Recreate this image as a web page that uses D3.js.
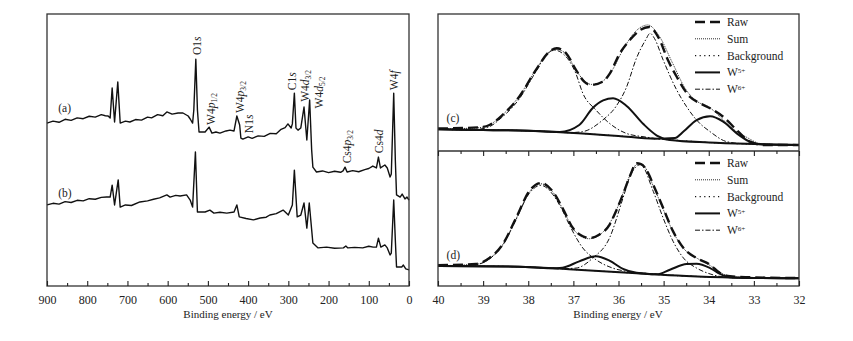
<!DOCTYPE html>
<html>
<head>
<meta charset="utf-8">
<script src="https://cdn.jsdelivr.net/npm/d3@7"></script>
<style>
  body { margin: 0; background: #fff; }
  svg text { font-family: "Liberation Serif", "DejaVu Serif", serif; fill: #222; }
</style>
</head>
<body>
<div id="chart"></div>
<script>
// ---- survey spectra (binding energy eV, intensity a.u.) ----
const surveyA = [
  [900, 59.9], [885, 60.6], [870, 60.2], [855, 61.3], [840, 60.9], [825, 61.8], [810, 61.5],
  [795, 62.4], [780, 62.1], [765, 63.0], [755, 62.6], [748, 62.5], [743, 61.8], [738, 72.8],
  [732, 60.3], [724, 75.0], [718, 59.9], [705, 60.6], [694, 60.3], [680, 61.2], [665, 61.0],
  [650, 62.1], [640, 61.8], [625, 63.0], [612, 62.6], [602, 64.0], [589, 63.2], [574, 63.6],
  [562, 63.6], [549, 62.5], [544, 61.4], [538, 59.9], [535, 64.7], [530, 83.4], [526, 64.7],
  [522, 56.6], [507, 56.6], [497, 58.4], [490, 56.2], [480, 56.6], [470, 56.2], [455, 57.0],
  [445, 57.3], [435, 57.0], [428, 62.5], [421, 59.2], [418, 54.4], [413, 54.0], [400, 54.8],
  [390, 54.3], [375, 55.2], [360, 55.0], [345, 56.1], [330, 56.0], [318, 57.6], [308, 58.2],
  [301, 59.6], [293, 58.1], [290, 59.6], [285, 70.9], [281, 58.1], [276, 57.3], [269, 58.1],
  [261, 65.8], [254, 53.7], [247, 68.4], [242, 50.0], [239, 43.7], [230, 41.9], [215, 42.3],
  [200, 41.7], [185, 42.2], [170, 41.8], [164, 42.3], [159, 43.7], [154, 41.9], [140, 42.4],
  [125, 42.0], [110, 42.8], [100, 43.2], [90, 44.1], [81, 43.4], [76, 47.4], [71, 43.4],
  [60, 44.5], [54, 43.4], [47, 40.1], [44, 41.2], [38, 70.9], [34, 46.3], [31, 33.5],
  [22, 32.7], [17, 33.8], [10, 32.0], [5, 32.7], [0, 31.6]
];
const surveyB = [
  [900, 29.8], [885, 30.4], [870, 30.1], [855, 31.0], [840, 30.7], [825, 31.5], [810, 31.3],
  [795, 32.1], [780, 31.9], [765, 32.6], [752, 32.7], [743, 32.7], [738, 37.1], [732, 29.8],
  [723, 39.0], [718, 29.0], [705, 29.8], [690, 29.6], [669, 30.9], [650, 31.3], [635, 31.9],
  [620, 32.4], [602, 33.5], [594, 32.7], [580, 33.3], [569, 33.1], [553, 33.5], [544, 31.6],
  [538, 29.0], [531, 49.3], [526, 27.2], [507, 27.2], [495, 27.9], [485, 26.8], [470, 27.1],
  [453, 26.8], [435, 27.2], [428, 29.8], [422, 25.4], [405, 24.8], [387, 24.3], [370, 25.0],
  [355, 25.3], [346, 26.1], [330, 26.6], [313, 27.9], [300, 26.1], [290, 29.8], [285, 42.6],
  [278, 25.4], [269, 26.1], [261, 30.5], [254, 21.3], [248, 30.5], [239, 15.8], [226, 14.0],
  [205, 14.3], [185, 13.9], [163, 14.0], [157, 14.7], [152, 14.0], [135, 14.2], [115, 14.0],
  [100, 14.6], [89, 14.3], [81, 14.3], [76, 17.6], [70, 14.3], [60, 15.1], [54, 14.0],
  [47, 11.4], [44, 12.1], [38, 31.6], [34, 16.9], [31, 7.0], [18, 7.0], [14, 7.7], [8, 6.3], [0, 5.9]
];
const surveyPeakLabels = [
  { at: [526, 84.9], parts: [["O1", ""], ["s", "i"]] },
  { at: [492, 59.2], parts: [["W4", ""], ["p", "i"], ["1/2", "sub"]] },
  { at: [420, 63.6], parts: [["W4", ""], ["p", "i"], ["3/2", "sub"]] },
  { at: [398, 56.2], parts: [["N1", ""], ["s", "i"]] },
  { at: [291, 72.0], parts: [["C1", ""], ["s", "i"]] },
  { at: [259, 67.7], parts: [["W4", ""], ["d", "i"], ["3/2", "sub"]] },
  { at: [224, 65.3], parts: [["W4", ""], ["d", "i"], ["5/2", "sub"]] },
  { at: [154, 45.1], parts: [["Cs4", ""], ["p", "i"], ["3/2", "sub"]] },
  { at: [75, 48.8], parts: [["Cs4", ""], ["d", "i"]] },
  { at: [37, 72.0], parts: [["W4", ""], ["f", "i"]] }
];
const surveyTags = [{ text: "(a)", at: [872, 64.0] }, { text: "(b)", at: [872, 32.9] }];
const surveyTicks = [900, 800, 700, 600, 500, 400, 300, 200, 100, 0];

// ---- W4f fits, panel (c) ----
const rawC = [
  [40, 16.4], [39.08, 17.3], [38.86, 19.0], [38.57, 26.3], [38.2, 39.6], [37.83, 59.1],
  [37.53, 72.5], [37.37, 75.0], [37.16, 71.3], [36.94, 59.1], [36.76, 50.6], [36.61, 48.2],
  [36.35, 50.6], [36.19, 56.7], [35.97, 71.3], [35.75, 81.0], [35.52, 88.3], [35.32, 90.5],
  [35.1, 82.0], [34.9, 66.0], [34.71, 54.2], [34.42, 39.6], [34.19, 34.8], [33.97, 31.2],
  [33.68, 25.0], [33.38, 15.3], [33.09, 6.8], [32.79, 4.4], [32, 4.4]
];
const sumC = [
  [40, 16.0], [39.1, 17.0], [38.85, 19.3], [38.55, 27.0], [38.2, 40.0], [37.85, 58.5],
  [37.55, 72.0], [37.38, 74.2], [37.15, 70.5], [36.95, 59.5], [36.75, 51.0], [36.6, 48.6],
  [36.35, 51.0], [36.13, 59.5], [35.9, 74.0], [35.6, 88.0], [35.35, 92.0], [35.1, 84.0],
  [34.8, 64.0], [34.5, 44.5], [34.27, 36.5], [33.97, 31.5], [33.75, 25.0], [33.46, 16.0],
  [33.16, 10.0], [32.86, 5.5], [32.4, 4.6], [32, 4.4]
];
const bgC = [[40, 15.8], [39, 15.3], [38, 14.8], [37.1, 13.4], [36, 11.0], [35, 8.5], [34, 6.2], [33, 5.1], [32, 4.4]];
const w6C = [
  [[40, 15.8], [39.2, 15.7], [38.9, 17.2], [38.6, 24.1], [38.2, 38.0], [37.85, 56.9], [37.6, 70.0],
   [37.43, 73.7], [37.2, 70.1], [36.95, 57.0], [36.79, 42.1], [36.5, 29.9], [36.2, 20.2],
   [35.83, 12.9], [35.4, 10.2], [35, 8.5], [34, 6.2], [33, 5.1], [32, 4.4]],
  [[40, 15.8], [39, 15.3], [38, 14.8], [37.1, 13.4], [36.8, 14.1], [36.35, 22.6], [36.06, 32.3],
   [35.83, 46.0], [35.6, 67.9], [35.4, 81.0], [35.3, 85.9], [35.2, 82.0], [35.01, 66.4],
   [34.71, 44.5], [34.49, 32.3], [34.27, 22.6], [33.97, 14.1], [33.6, 6.8], [33.23, 5.3], [32, 4.4]]
];
const w5C = [
  [[40, 15.8], [39, 15.3], [38, 14.8], [37.3, 13.9], [36.87, 19.0], [36.57, 31.4], [36.34, 36.9],
   [36.12, 38.5], [35.82, 32.9], [35.45, 19.7], [35.15, 11.3], [34.86, 8.0], [34, 6.2], [33, 5.1], [32, 4.4]],
  [[40, 15.8], [39, 15.3], [38, 14.8], [37.1, 13.4], [36, 11.0], [35.2, 9.0], [34.75, 9.5],
   [34.56, 14.2], [34.27, 22.6], [33.97, 25.3], [33.68, 21.4], [33.38, 12.9], [33.09, 6.8],
   [32.8, 4.7], [32, 4.4]]
];

// ---- W4f fits, panel (d) ----
const rawD = [
  [40, 15.2], [39.16, 16.1], [38.86, 20.4], [38.57, 30.2], [38.27, 49.6], [37.98, 69.1],
  [37.72, 75.2], [37.46, 69.1], [37.24, 56.9], [37.01, 42.3], [36.79, 36.3], [36.65, 35.0],
  [36.43, 37.4], [36.2, 44.7], [36.05, 55.0], [35.9, 67.0], [35.75, 80.0], [35.6, 89.6],
  [35.5, 89.0], [35.35, 83.0], [35.23, 74.0], [35.01, 56.9], [34.79, 39.9], [34.56, 27.7],
  [34.27, 20.4], [33.97, 15.5], [33.75, 9.5], [33.53, 7.1], [33.09, 6.4], [32, 5.8]
];
const sumD = [
  [40, 14.8], [39.16, 15.8], [38.86, 20.0], [38.57, 30.0], [38.27, 49.0], [37.98, 68.5],
  [37.72, 74.6], [37.46, 68.8], [37.24, 56.5], [37.01, 42.0], [36.79, 35.5], [36.65, 34.5],
  [36.43, 37.0], [36.2, 45.5], [36.0, 59.0], [35.75, 80.5], [35.58, 89.0], [35.45, 88.0],
  [35.23, 73.0], [35.01, 56.0], [34.79, 39.5], [34.56, 27.5], [34.27, 20.5], [33.97, 15.0],
  [33.75, 10.0], [33.53, 7.0], [33.09, 6.1], [32, 5.6]
];
const bgD = [[40, 14.6], [39, 14.4], [38.2, 14.1], [37.1, 12.2], [36.3, 10.7], [35.6, 9.3], [34.5, 7.3], [33.4, 6.1], [32, 5.6]];
const w6D = [
  [[40, 14.6], [39.16, 15.6], [38.86, 19.8], [38.57, 29.5], [38.27, 48.5], [37.98, 67.5],
   [37.72, 73.5], [37.46, 67.0], [37.24, 55.0], [37.09, 44.7], [36.79, 27.7], [36.5, 19.2],
   [36.13, 13.1], [35.83, 10.7], [35.3, 9.0], [34.5, 7.3], [33.4, 6.1], [32, 5.6]],
  [[40, 14.6], [38.2, 14.1], [37.3, 12.6], [36.94, 13.1], [36.57, 20.4], [36.2, 35.0], [35.9, 64.2],
   [35.73, 81.3], [35.51, 88.6], [35.23, 69.1], [35.01, 49.6], [34.79, 32.6], [34.56, 20.4],
   [34.27, 13.1], [33.97, 8.8], [33.68, 6.7], [33, 5.9], [32, 5.6]]
];
const w5D = [
  [[40, 14.6], [38.2, 14.1], [37.5, 12.9], [37.24, 13.4], [36.87, 18.0], [36.5, 21.7], [36.2, 18.5],
   [35.9, 12.5], [35.6, 9.6], [35.2, 8.6], [34.5, 7.3], [33.4, 6.1], [32, 5.6]],
  [[40, 14.6], [38.2, 14.1], [37.1, 12.2], [35.6, 9.3], [35.15, 8.5], [34.86, 11.9], [34.49, 16.1],
   [34.27, 16.3], [33.97, 13.1], [33.75, 8.8], [33.53, 6.3], [33, 5.9], [32, 5.6]]
];
const fitTicks = [40, 39, 38, 37, 36, 35, 34, 33, 32];
const legendNames = ["Raw", "Sum", "Background", "W5+", "W6+"];

const width = 853, height = 341;
const svg = d3.select("#chart").append("svg").attr("width", width).attr("height", height);

const styles = {
  raw: { w: 2.4, dash: "10,5" },
  sum: { w: 0.9, dash: "1,1" },
  bg: { w: 1.2, dash: "1.2,3.4" },
  w5: { w: 2, dash: null },
  w6: { w: 1, dash: "5,2,1.5,2" }
};

function drawLine(g, data, line, st) {
  g.append("path").datum(data)
    .attr("fill", "none").attr("stroke", "#111")
    .attr("stroke-width", st.w)
    .attr("stroke-dasharray", st.dash)
    .attr("stroke-linejoin", "round")
    .attr("d", line);
}

function bottomTicks(g, x, y0, major, minor, dir) {
  // inward ticks; dir -1 = up, +1 = down
  g.append("g").attr("transform", "translate(0," + y0 + ")")
    .call((dir < 0 ? d3.axisBottom(x) : d3.axisTop(x)).tickValues(minor).tickSize(-3).tickFormat(""))
    .call(s => s.select(".domain").remove())
    .selectAll("line").attr("stroke", "#222").attr("stroke-width", 1.1);
  g.append("g").attr("transform", "translate(0," + y0 + ")")
    .call((dir < 0 ? d3.axisBottom(x) : d3.axisTop(x)).tickValues(major).tickSize(-5).tickFormat(""))
    .call(s => s.select(".domain").remove())
    .selectAll("line").attr("stroke", "#222").attr("stroke-width", 1.1);
}

function tickLabels(g, x, y0, ticks) {
  g.append("g").attr("transform", "translate(0," + y0 + ")")
    .call(d3.axisBottom(x).tickValues(ticks).tickSize(0).tickPadding(9).tickFormat(d3.format("d")))
    .call(s => s.select(".domain").remove())
    .selectAll("text")
    .style("font-size", "12px")
    .style("font-family", "'Liberation Serif', serif")
    .attr("fill", "#222");
}

// ---------------- left: survey ----------------
const xS = d3.scaleLinear().domain([900, 0]).range([47, 409]);
const yS = d3.scaleLinear().domain([0, 100]).range([286, 14]);
const gS = svg.append("g");

const lineS = d3.line().x(d => xS(d[0])).y(d => yS(d[1]));
drawLine(gS, surveyA, lineS, { w: 1.4, dash: null });
drawLine(gS, surveyB, lineS, { w: 1.4, dash: null });

gS.append("rect").attr("x", 47).attr("y", 14).attr("width", 362).attr("height", 272)
  .attr("fill", "none").attr("stroke", "#333").attr("stroke-width", 1.3);

bottomTicks(gS, xS, 286, surveyTicks, d3.range(850, 0, -100), -1);
tickLabels(gS, xS, 286, surveyTicks);

surveyTags.forEach(t => {
  gS.append("text").attr("x", xS(t.at[0])).attr("y", yS(t.at[1]))
    .style("font-size", "11.5px").text(t.text);
});

surveyPeakLabels.forEach(p => {
  const t = gS.append("text")
    .attr("transform", "translate(" + xS(p.at[0]) + "," + yS(p.at[1]) + ") rotate(-90)")
    .attr("dy", "0.35em")
    .style("font-size", "11.5px");
  p.parts.forEach(([s, kind]) => {
    const ts = t.append("tspan").text(s);
    if (kind === "i") ts.style("font-style", "italic");
    if (kind === "sub") ts.style("font-size", "7.5px").attr("dy", "0.3em");
  });
});

svg.append("text").attr("x", 228).attr("y", 318).attr("text-anchor", "middle")
  .style("font-size", "11px").text("Binding energy / eV");

// ---------------- right: W4f fits ----------------
const xF = d3.scaleLinear().domain([40, 32]).range([438, 799]);
const panels = [
  { tag: "(c)", tagAt: [39.81, 21.2], y: d3.scaleLinear().domain([0, 100]).range([151, 14]),
    raw: rawC, sum: sumC, bg: bgC, w5: w5C, w6: w6C, legTop: 22 },
  { tag: "(d)", tagAt: [39.81, 19.7], y: d3.scaleLinear().domain([0, 100]).range([286, 149]),
    raw: rawD, sum: sumD, bg: bgD, w5: w5D, w6: w6D, legTop: 163 }
];

panels.forEach(p => {
  const g = svg.append("g");
  const line = d3.line().x(d => xF(d[0])).y(d => p.y(d[1])).curve(d3.curveMonotoneX);
  drawLine(g, p.bg, line, styles.bg);
  p.w6.forEach(c => drawLine(g, c, line, styles.w6));
  p.w5.forEach(c => drawLine(g, c, line, styles.w5));
  drawLine(g, p.sum, line, styles.sum);
  drawLine(g, p.raw, line, styles.raw);

  g.append("text").attr("x", xF(p.tagAt[0])).attr("y", p.y(p.tagAt[1]))
    .style("font-size", "11.5px").text(p.tag);

  // legend
  const keys = ["raw", "sum", "bg", "w5", "w6"];
  const leg = g.append("g").attr("transform", "translate(695," + p.legTop + ")");
  keys.forEach((k, i) => {
    const row = leg.append("g").attr("transform", "translate(0," + (i * 16.8) + ")");
    row.append("line").attr("x1", 0).attr("x2", 25).attr("y1", 0).attr("y2", 0)
      .attr("stroke", "#111").attr("stroke-width", styles[k].w)
      .attr("stroke-dasharray", styles[k].dash);
    const t = row.append("text").attr("x", 32).attr("y", 4).style("font-size", "11.5px");
    const name = legendNames[i];
    if (name.startsWith("W")) {
      t.append("tspan").text("W");
      t.append("tspan").text(name.slice(1)).style("font-size", "7px").attr("dy", "-0.45em");
    } else {
      t.text(name);
    }
  });
});

const gF = svg.append("g");
gF.append("rect").attr("x", 438).attr("y", 14).attr("width", 361).attr("height", 272)
  .attr("fill", "none").attr("stroke", "#333").attr("stroke-width", 1.3);
gF.append("line").attr("x1", 438).attr("x2", 799).attr("y1", 151).attr("y2", 151)
  .attr("stroke", "#333").attr("stroke-width", 1.3);

const fitMinor = d3.range(39.5, 32, -1);
bottomTicks(gF, xF, 286, fitTicks, fitMinor, -1);
bottomTicks(gF, xF, 151, fitTicks, fitMinor, 1);
tickLabels(gF, xF, 286, fitTicks);

svg.append("text").attr("x", 618).attr("y", 318).attr("text-anchor", "middle")
  .style("font-size", "11px").text("Binding energy / eV");
</script>
</body>
</html>
